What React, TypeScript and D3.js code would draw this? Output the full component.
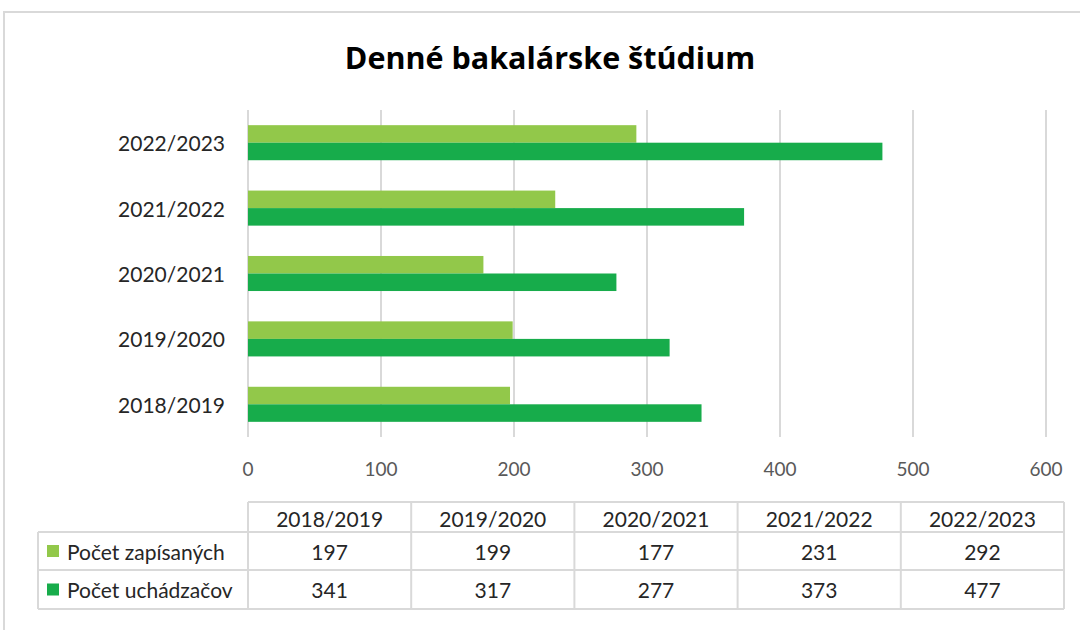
import React from "react";
import * as d3 from "d3";

const years = ["2018/2019", "2019/2020", "2020/2021", "2021/2022", "2022/2023"];
const enrolled = [197, 199, 177, 231, 292];
const applicants = [341, 317, 277, 373, 477];
const seriesNames = ["Počet zapísaných", "Počet uchádzačov"];
const seriesColors = ["#92c84a", "#17ac4b"];
const xTicks = [0, 100, 200, 300, 400, 500, 600];
const title = "Denné bakalárske štúdium";

const W = 1080;
const H = 630;
const FONT = "Lato, 'Liberation Sans', Arial, sans-serif";
const GRID = "#d9d9d9";
const TEXT = "#262626";
const AXIS_TEXT = "#595959";

export default function App() {
  const x = d3.scaleLinear().domain([0, 600]).range([248, 1046]);
  const y = d3
    .scaleBand<string>()
    .domain([...years].reverse())
    .range([110, 437])
    .paddingInner(0.464)
    .paddingOuter(0.232);
  const ySeries = d3
    .scaleBand<number>()
    .domain([0, 1])
    .range([0, y.bandwidth()]);
  const series = [enrolled, applicants];

  // data table
  const tableCol = d3.scaleBand<string>().domain(years).range([248, 1064]);
  const rowEdges = [502, 532, 570, 609];
  const labelLeft = 38;

  return (
    <svg
      width={W}
      height={H}
      style={{ position: "fixed", left: 0, top: 0, background: "#fff" }}
      fontFamily={FONT}
    >
      <rect x={0} y={0} width={W} height={H} fill="#fff" />
      {/* chart frame */}
      <path d={`M4,${H + 5}V12H${W + 5}`} fill="none" stroke={GRID} strokeWidth={2} />

      <text
        x={550}
        y={57}
        textAnchor="middle"
        dominantBaseline="central"
        fontSize={30.5}
        fontWeight={700}
        fontFamily="'Open Sans', Lato, sans-serif"
        fill="#000"
      >
        {title}
      </text>

      {/* gridlines */}
      {xTicks.map((t) => (
        <line key={t} x1={x(t)} x2={x(t)} y1={110} y2={437} stroke={GRID} strokeWidth={2} />
      ))}

      {/* bars */}
      {years.map((yr, i) => (
        <g key={yr} transform={`translate(0,${y(yr)})`}>
          {series.map((s, si) => (
            <rect
              key={si}
              x={x(0)}
              y={ySeries(si)}
              width={x(s[i]) - x(0)}
              height={ySeries.bandwidth()}
              fill={seriesColors[si]}
            />
          ))}
        </g>
      ))}

      {/* category labels */}
      {years.map((yr) => (
        <text
          key={yr}
          x={225}
          y={(y(yr) as number) + y.bandwidth() / 2}
          textAnchor="end"
          dominantBaseline="central"
          fontSize={21}
          fill={TEXT}
        >
          {yr}
        </text>
      ))}

      {/* x tick labels */}
      {xTicks.map((t) => (
        <text
          key={t}
          x={x(t)}
          y={468}
          textAnchor="middle"
          dominantBaseline="central"
          fontSize={19}
          fill={AXIS_TEXT}
        >
          {t}
        </text>
      ))}

      {/* data table */}
      <g stroke={GRID} strokeWidth={2} fill="none">
        <line x1={248} x2={1064} y1={rowEdges[0]} y2={rowEdges[0]} />
        <line x1={labelLeft} x2={1064} y1={rowEdges[1]} y2={rowEdges[1]} />
        <line x1={labelLeft} x2={1064} y1={rowEdges[2]} y2={rowEdges[2]} />
        <line x1={labelLeft} x2={1064} y1={rowEdges[3]} y2={rowEdges[3]} />
        <line x1={labelLeft} x2={labelLeft} y1={rowEdges[1]} y2={rowEdges[3]} />
        {years.map((yr) => (
          <line
            key={yr}
            x1={tableCol(yr)}
            x2={tableCol(yr)}
            y1={rowEdges[0]}
            y2={rowEdges[3]}
          />
        ))}
        <line x1={1064} x2={1064} y1={rowEdges[0]} y2={rowEdges[3]} />
      </g>
      {years.map((yr) => (
        <text
          key={yr}
          x={(tableCol(yr) as number) + tableCol.bandwidth() / 2}
          y={(rowEdges[0] + rowEdges[1]) / 2 + 1}
          textAnchor="middle"
          dominantBaseline="central"
          fontSize={21}
          fill={TEXT}
        >
          {yr}
        </text>
      ))}
      {series.map((s, si) => {
        const cy = (rowEdges[si + 1] + rowEdges[si + 2]) / 2;
        return (
          <g key={si}>
            <rect x={47} y={cy - 6} width={12} height={12} fill={seriesColors[si]} />
            <text x={67} y={cy} dominantBaseline="central" fontSize={21} fill={TEXT}>
              {seriesNames[si]}
            </text>
            {years.map((yr, i) => (
              <text
                key={yr}
                x={(tableCol(yr) as number) + tableCol.bandwidth() / 2}
                y={cy}
                textAnchor="middle"
                dominantBaseline="central"
                fontSize={21}
                fill={TEXT}
              >
                {s[i]}
              </text>
            ))}
          </g>
        );
      })}
    </svg>
  );
}
